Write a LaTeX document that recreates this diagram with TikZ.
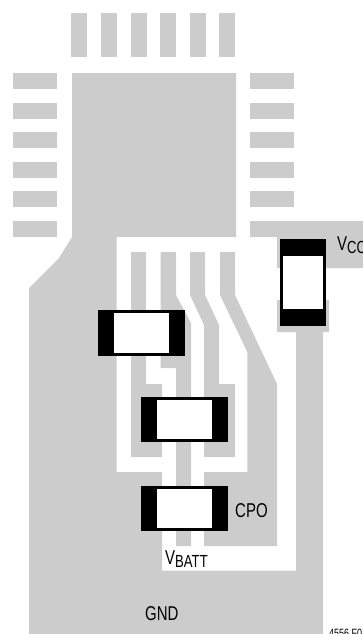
\documentclass[tikz,border=0pt]{standalone}
\usepackage{fontspec}
\setmainfont[FakeStretch=0.75]{Liberation Sans}
\definecolor{copper}{HTML}{CCCCCC}
\newcommand{\lowtext}[1]{\raisebox{-3.5pt}{\fontsize{17.5}{17.5}\selectfont #1}}
\tikzset{
    pad/.style={fill=copper},
    capend/.style={fill=black},
    capbody/.style={fill=white},
    lbl/.style={inner sep=0pt,anchor=base west,font=\fontsize{20}{20}\selectfont}
}
\begin{document}
\begin{tikzpicture}[x=1pt,y=-1pt]
        \useasboundingbox (0,0) rectangle (363,634);

        % top row
        \fill[pad] (71,13) rectangle (87,57);
        \fill[pad] (101,13) rectangle (117,57);
        \fill[pad] (131,13) rectangle (147,57);
        \fill[pad] (160,13) rectangle (176,57);
        \fill[pad] (190,13) rectangle (206,57);
        \fill[pad] (219,13) rectangle (235,57);

        % left row
        \fill[pad] (13,73) rectangle (57,89);
        \fill[pad] (13,103) rectangle (57,119);
        \fill[pad] (13,132) rectangle (57,148);
        \fill[pad] (13,162) rectangle (57,178);
        \fill[pad] (13,191) rectangle (57,207);
        \fill[pad] (13,221) rectangle (57,237);

        % right row
        \fill[pad] (250,73) rectangle (294,89);
        \fill[pad] (250,103) rectangle (294,119);
        \fill[pad] (250,132) rectangle (294,148);
        \fill[pad] (250,162) rectangle (294,178);
        \fill[pad] (250,191) rectangle (294,207);
        \fill[pad] (250,221) -- (363,221) -- (363,268) -- (277,268) -- (277,237) -- (250,237) -- cycle;

        % ground pour
        \fill[pad] (72,73) -- (236,73) -- (236,237) -- (116.6,237) -- (116.6,472) -- (162,472)
            -- (162,570.7) -- (296,570.7) -- (296,332) -- (277,332) -- (277,300) -- (329,300)
            -- (329,332) -- (323,332) -- (323,634) -- (29,634) -- (29,288) -- (59,258) -- (72,237) -- cycle;

        % traces
        \fill[pad] (131,252) -- (146,252) -- (146,384) -- (162,384) -- (162,457) -- (131,457) -- cycle;
        \fill[pad] (160.7,252) -- (176,252) -- (176,295) -- (191,323) -- (191,546) -- (176,546)
            -- (176,368) -- (160.7,368) -- cycle;
        \fill[pad] (190,252) -- (205,252) -- (205,295) -- (219,325) -- (219,384) -- (235,384)
            -- (235,457) -- (204,457) -- (204,325) -- (190,295) -- cycle;
        \fill[pad] (220,252) -- (235,252) -- (235,295) -- (277,384) -- (277,546) -- (204,546)
            -- (204,472) -- (247.3,472) -- (247.3,352) -- (220,295) -- cycle;

        % capacitors
        \fill[capend] (98,310) rectangle (185,356);
        \fill[capbody] (114,313) rectangle (169,353);
        \fill[capend] (141,397) rectangle (228,442);
        \fill[capbody] (157,400) rectangle (212,439);
        \fill[capend] (141,486) rectangle (228,531);
        \fill[capbody] (157,489) rectangle (212,528);
        \fill[capend] (280.3,239) rectangle (326,326);
        \fill[capbody] (283.3,255.7) rectangle (323,309.3);

        \node (vcc) at (337,250) [lbl] {V\lowtext{CC}};
        \node (cpo) at (235,517) [lbl] {CPO};
        \node (vbatt) at (165,564) [lbl] {V\lowtext{BATT}};
        \node (gnd) at (145,620) [lbl] {GND};
        \node (fig) at (329,637) [lbl,font=\fontsize{12}{12}\selectfont] {4556 F0};
    \end{tikzpicture}
\end{document}
